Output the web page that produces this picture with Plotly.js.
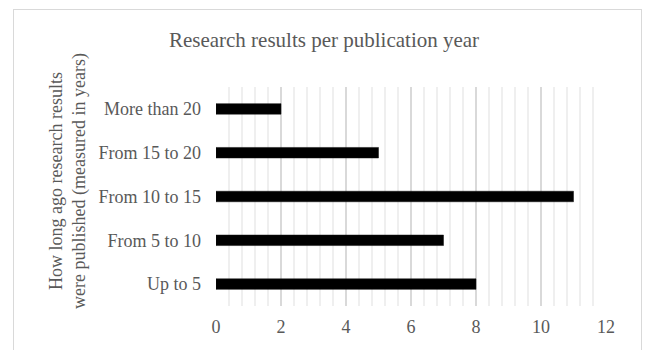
<!DOCTYPE html>
<html>
<head>
<meta charset="utf-8">
<script src="https://cdn.plot.ly/plotly-3.0.1.min.js"></script>
<style>
  html, body { margin: 0; padding: 0; background: #ffffff; }
  #wrap { position: relative; width: 648px; height: 350px; overflow: hidden; }
  #chart { width: 648px; height: 350px; }
  #frame { position: absolute; left: 13px; top: 9px; width: 629px; height: 400px;
           border: 1.5px solid #d9d9d9; pointer-events: none; box-sizing: border-box; }
</style>
</head>
<body>
<div id="wrap">
  <div id="chart"></div>
  <div id="frame"></div>
</div>
<script>
// Age groups of publications (bottom to top on the chart)
const categories = ["Up to 5", "From 5 to 10", "From 10 to 15", "From 15 to 20", "More than 20"];
// Number of research results in each age group
const counts = [8, 7, 11, 5, 2];

const serif = "Liberation Serif";
const grey = "#595959";

const trace = {
  type: "bar",
  orientation: "h",
  y: categories,
  x: counts,
  width: 0.24,
  marker: { color: "#000000", line: { color: "#111111", width: 0.5 } },
  hoverinfo: "x+y"
};

const layout = {
  width: 648,
  height: 350,
  margin: { l: 216, r: 42, t: 87, b: 44 },
  paper_bgcolor: "#ffffff",
  plot_bgcolor: "#ffffff",
  showlegend: false,
  font: { family: serif, color: grey, size: 18 },
  title: {
    text: "Research results per publication year",
    font: { family: serif, size: 21, color: grey },
    x: 0.5,
    xanchor: "center",
    y: 1 - 40 / 350,
    yanchor: "middle"
  },
  xaxis: {
    range: [0, 12],
    dtick: 2,
    tick0: 0,
    showgrid: true,
    gridcolor: "#d9d9d9",
    gridwidth: 1.5,
    zeroline: false,
    showline: false,
    ticks: "",
    ticklabelstandoff: 8,
    tickfont: { family: serif, size: 18, color: grey },
    minor: { dtick: 0.4, tick0: 0, showgrid: true, gridcolor: "#efefef", gridwidth: 1.5 },
    fixedrange: true
  },
  yaxis: {
    type: "category",
    categoryorder: "array",
    categoryarray: categories,
    showgrid: false,
    zeroline: false,
    showline: false,
    ticks: "",
    ticklabelstandoff: 14,
    tickfont: { family: serif, size: 18, color: grey },
    fixedrange: true
  },
  annotations: [{
    text: "How long ago research results<br>were published (measured in years)",
    xref: "paper",
    yref: "paper",
    x: (68 - 216) / 389.7,
    y: (306 - 181) / 219,
    xanchor: "center",
    yanchor: "middle",
    textangle: -90,
    showarrow: false,
    font: { family: serif, size: 18, color: grey }
  }]
};

Plotly.newPlot("chart", [trace], layout, { displayModeBar: false, staticPlot: true });
</script>
</body>
</html>
